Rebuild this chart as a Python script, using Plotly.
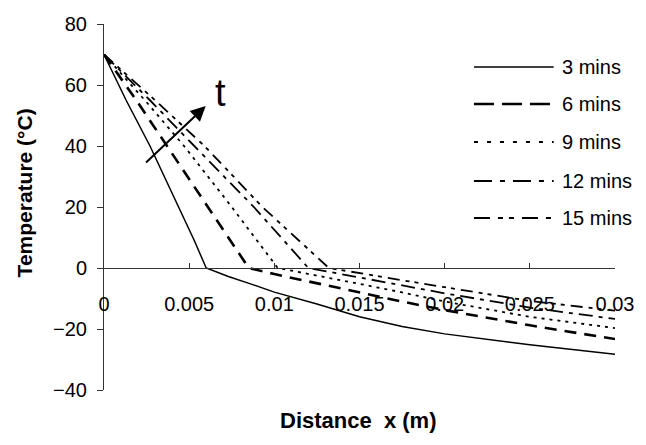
import plotly.graph_objects as go

# Temperature profiles T(x) at successive times
x_3 = [0, 0.0013, 0.0027, 0.0044, 0.0053, 0.006, 0.0073, 0.0086, 0.01, 0.0125, 0.015, 0.0175, 0.02, 0.025, 0.03]
t_3 = [70, 55, 40, 20, 9, 0, -2.8, -5.2, -7.9, -11.8, -16.0, -19.2, -21.6, -25.2, -28.3]

x_6 = [0, 0.0019, 0.0037, 0.0061, 0.0085, 0.01, 0.0125, 0.015, 0.0175, 0.02, 0.025, 0.03]
t_6 = [70, 55, 40, 20, 0, -2.0, -5.0, -8.2, -11.0, -13.8, -18.8, -23.3]

x_9 = [0, 0.0024, 0.0047, 0.0075, 0.0102, 0.0125, 0.015, 0.0175, 0.02, 0.025, 0.03]
t_9 = [70, 55, 40, 20, 0, -2.6, -5.2, -8.0, -11.0, -16.0, -19.7]

x_12 = [0, 0.0027, 0.0053, 0.0088, 0.012, 0.015, 0.0175, 0.02, 0.025, 0.03]
t_12 = [70, 55, 40, 20, 0, -3.2, -5.8, -8.3, -13.0, -16.7]

x_15 = [0, 0.0030, 0.0059, 0.0093, 0.0132, 0.015, 0.0175, 0.02, 0.025, 0.03]
t_15 = [70, 55, 40, 20, 0, -1.6, -4.0, -6.3, -10.8, -14.0]

series_names = ["3 mins", "6 mins", "9 mins", "12 mins", "15 mins"]
x_ticks = [0, 0.005, 0.01, 0.015, 0.02, 0.025, 0.03]
x_tick_text = ["0", "0.005", "0.01", "0.015", "0.02", "0.025", "0.03"]
y_ticks = [-40, -20, 0, 20, 40, 60, 80]

FONT = "Liberation Sans, Arial, sans-serif"
INK = "#000000"

styles = [
    dict(dash="solid", width=1.5),
    dict(dash="12px,8px", width=2.6),
    dict(dash="3px,5px", width=1.8),
    dict(dash="14px,6px,4px,6px", width=1.8),
    dict(dash="12px,6px,4px,5px,4px,6px", width=1.8),
]
legend_dash = ["solid", "20px,8px", "4px,9px", "18px,8px,5px,8px", "16px,8px,5px,6px,5px,8px"]

fig = go.Figure()
data = [(x_3, t_3), (x_6, t_6), (x_9, t_9), (x_12, t_12), (x_15, t_15)]
for (xs, ts), name, st in zip(data, series_names, styles):
    fig.add_trace(go.Scatter(
        x=xs, y=ts, mode="lines", name=name, showlegend=False,
        line=dict(color=INK, width=st["width"], dash=st["dash"]),
    ))

# Hand-drawn legend block on the right
row_y = [0.8825, 0.7814, 0.6776, 0.5710, 0.4699]
shapes = []
annotations = []
for name, st, dsh, yy in zip(series_names, styles, legend_dash, row_y):
    shapes.append(dict(
        type="line", xref="paper", yref="paper", x0=0.724, x1=0.880, y0=yy, y1=yy,
        line=dict(color=INK, width=st["width"], dash=dsh),
    ))
    annotations.append(dict(
        xref="paper", yref="paper", x=0.893, y=yy, text=name, showarrow=False,
        xanchor="left", yanchor="middle", font=dict(family=FONT, size=20, color=INK),
    ))

# Time arrow and its label
annotations.append(dict(
    x=0.00597, y=53.1, ax=0.00238, ay=34.1, xref="x", yref="y", axref="x", ayref="y",
    text="", showarrow=True, arrowhead=2, arrowsize=1.5, arrowwidth=2, arrowcolor=INK,
))
annotations.append(dict(
    x=0.00684, y=57.5, xref="x", yref="y", text="t", showarrow=False,
    font=dict(family=FONT, size=38, color=INK), xanchor="center", yanchor="middle",
))

# Axis titles
annotations.append(dict(
    xref="paper", yref="paper", x=-0.156, y=0.538, text="<b>Temperature (°C)</b>",
    textangle=-90, showarrow=False, xanchor="center", yanchor="middle",
    font=dict(family=FONT, size=21, color=INK),
))
annotations.append(dict(
    xref="paper", yref="paper", x=0.498, y=-0.082, text="<b>Distance\u00a0\u00a0x\u00a0(m)</b>",
    showarrow=False, xanchor="center", yanchor="middle",
    font=dict(family=FONT, size=22, color=INK),
))

fig.update_layout(
    width=646, height=445,
    margin=dict(l=104, r=24, t=24, b=55),
    paper_bgcolor="white", plot_bgcolor="white",
    showlegend=False,
    shapes=shapes,
    annotations=annotations,
    xaxis=dict(
        range=[0, 0.03], tickvals=x_ticks, ticktext=x_tick_text,
        anchor="free", position=1 / 3,
        showline=True, linecolor="#333333", linewidth=1,
        ticks="inside", ticklen=5, tickcolor="#333333",
        showgrid=False, zeroline=False,
        ticklabelstandoff=18,
        tickfont=dict(family=FONT, size=20, color=INK),
    ),
    yaxis=dict(
        range=[-40, 80], tickvals=y_ticks,
        showline=True, linecolor="#333333", linewidth=1,
        ticks="outside", ticklen=6, tickcolor="#333333",
        showgrid=False, zeroline=False,
        ticklabelstandoff=6,
        tickfont=dict(family=FONT, size=20, color=INK),
    ),
)

fig.write_html("out.html")
